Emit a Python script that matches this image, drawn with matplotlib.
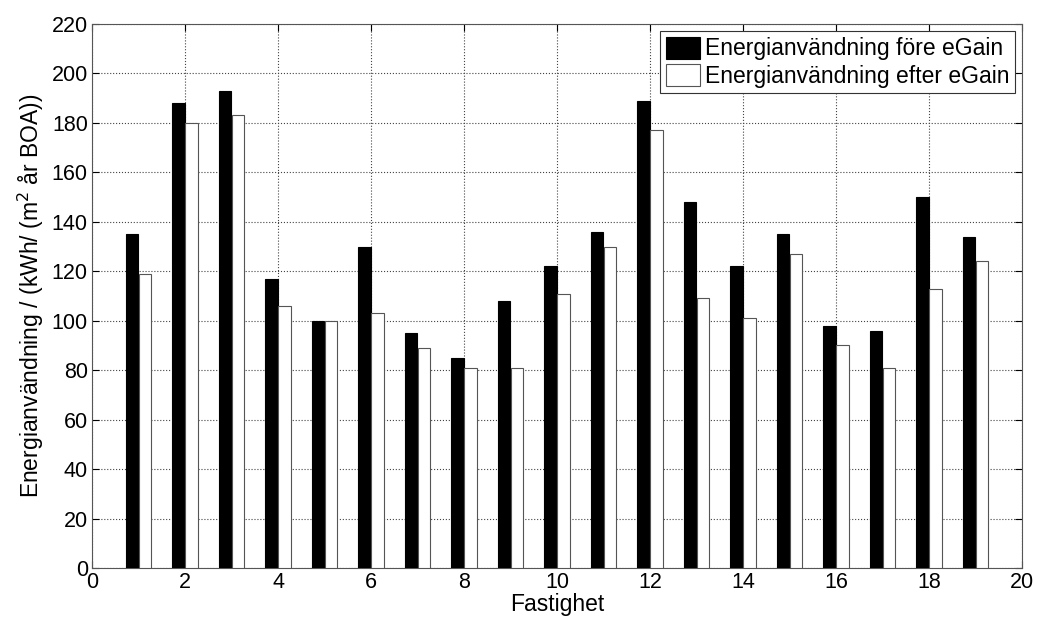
import numpy as np
import matplotlib.pyplot as plt

plt.rcParams['font.family'] = ['Liberation Sans', 'DejaVu Sans']

fastighet = np.arange(1, 20)
fore = [135, 188, 193, 117, 100, 130, 95, 85, 108, 122, 136, 189, 148, 122, 135, 98, 96, 150, 134]
efter = [119, 180, 183, 106, 100, 103, 89, 81, 81, 111, 130, 177, 109, 101, 127, 90, 81, 113, 124]

fig = plt.figure(figsize=(10.42, 6.25), dpi=100)
ax = fig.add_axes([0.0883, 0.0912, 0.8925, 0.8704])

w = 0.26
ax.bar(fastighet - 0.14, fore, w, color='black', edgecolor='black', linewidth=0.8,
       label='Energianvändning före eGain', zorder=3)
ax.bar(fastighet + 0.14, efter, w, color='white', edgecolor='#555555', linewidth=0.8,
       label='Energianvändning efter eGain', zorder=3)

ax.set_xlim(0, 20)
ax.set_ylim(0, 220)
ax.set_xticks(range(0, 21, 2))
ax.set_yticks(range(0, 221, 20))
ax.grid(True, linestyle=':', color='#444444', linewidth=0.8, zorder=0)
ax.tick_params(direction='in', top=True, right=True, labelsize=15.5, length=5, pad=3)
for s in ax.spines.values():
    s.set_color('#555555')

ax.set_xlabel('Fastighet', fontsize=16.5, labelpad=0)
ax.set_ylabel('Energianvändning / (kWh/ (m$^2$ år BOA))', fontsize=16.5, labelpad=4)

leg = ax.legend(loc='upper right', fontsize=16.5, fancybox=False, framealpha=1,
                edgecolor='#333333', borderaxespad=0.3, handlelength=1.5,
                handleheight=1.1, handletextpad=0.2, borderpad=0.25, labelspacing=0.15)
leg.get_frame().set_linewidth(0.8)

fig.savefig('out.png', dpi=100)
